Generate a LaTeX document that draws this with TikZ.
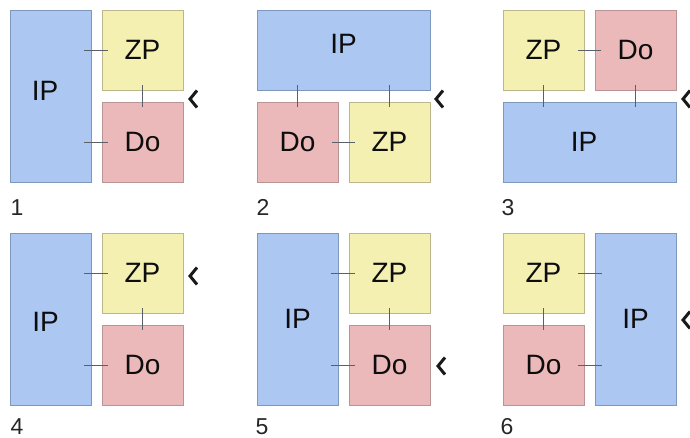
\documentclass[tikz,border=0pt]{standalone}
\usepackage{fontspec}
\setmainfont{Liberation Sans}
\usetikzlibrary{calc}
\definecolor{ipfill}{HTML}{ACC7F2}
\definecolor{ipline}{HTML}{7E97BC}
\definecolor{zpfill}{HTML}{F4F0B2}
\definecolor{zpline}{HTML}{BDB68C}
\definecolor{dofill}{HTML}{EBB9B9}
\definecolor{doline}{HTML}{BA9494}
\definecolor{linkgray}{HTML}{5A6068}
\newcommand{\nudge}[3]{\raisebox{#2}[\height][\depth]{#3}\hspace*{#1}}
\tikzset{
  box/.style={inner sep=0pt, line width=0.8pt, text=black!95,
    font=\fontsize{28}{28}\selectfont},
  small/.style={box, minimum width=81pt, minimum height=80pt},
  tall/.style={box, minimum width=81pt, minimum height=172pt},
  wide/.style={box, minimum width=173pt, minimum height=80pt},
  ip/.style={fill=ipfill, draw=ipline},
  zp/.style={fill=zpfill, draw=zpline},
  do/.style={fill=dofill, draw=doline},
  link/.style={draw=linkgray, line width=0.8pt},
  pointer/.style={draw=black!90, line width=3pt},
  num/.style={anchor=base, inner sep=0pt, text=black!85,
    font=\fontsize{23}{23}\selectfont},
}
\begin{document}
\begin{tikzpicture}[x=1pt,y=-1pt]
\useasboundingbox (0,0) rectangle (690,438);
\clip (0,0) rectangle (690,438);

% 1
\node[tall,ip] (ip1) at (50.5,96) {\nudge{11pt}{5pt}{IP}};
\node[small,zp] (zp1) at (142.5,50) {ZP};
\node[small,do] (do1) at (142.5,142) {Do};
\draw[link] ($(ip1.east |- zp1.west)+(-7,0)$) -- ($(zp1.west)+(6,0)$);
\draw[link] ($(ip1.east |- do1.west)+(-7,0)$) -- ($(do1.west)+(6,0)$);
\draw[link] ($(zp1.south)+(0,-5)$) -- ($(do1.north)+(0,5)$);
\draw[pointer] (197,90.5) -- (190,99) -- (197,107.5);
\node[num] (n1) at (17,216) {1};

% 2
\node[wide,ip] (ip2) at (343.5,50) {\nudge{0pt}{6pt}{IP}};
\node[small,do] (do2) at (297.5,142) {Do};
\node[small,zp] (zp2) at (389.5,142) {ZP};
\draw[link] ($(ip2.south -| do2.north)+(0,-5)$) -- ($(do2.north)+(0,5)$);
\draw[link] ($(ip2.south -| zp2.north)+(0,-5)$) -- ($(zp2.north)+(0,5)$);
\draw[link] ($(do2.east)+(-6,0)$) -- ($(zp2.west)+(6,0)$);
\draw[pointer] (443,90.5) -- (436,99) -- (443,107.5);
\node[num] (n2) at (263,216) {2};

% 3
\node[small,zp] (zp3) at (543.5,50) {ZP};
\node[small,do] (do3) at (635.5,50) {Do};
\node[wide,ip] (ip3) at (589.5,142) {\nudge{11pt}{0pt}{IP}};
\draw[link] ($(zp3.east)+(-6,0)$) -- ($(do3.west)+(6,0)$);
\draw[link] ($(zp3.south)+(0,-5)$) -- ($(ip3.north -| zp3.south)+(0,5)$);
\draw[link] ($(do3.south)+(0,-5)$) -- ($(ip3.north -| do3.south)+(0,5)$);
\draw[pointer] (690,90.5) -- (683,99) -- (690,107.5);
\node[num] (n3) at (508,216) {3};

% 4
\node[tall,ip] (ip4) at (50.5,319) {\nudge{10pt}{-3pt}{IP}};
\node[small,zp] (zp4) at (142.5,273) {ZP};
\node[small,do] (do4) at (142.5,365) {Do};
\draw[link] ($(ip4.east |- zp4.west)+(-7,0)$) -- ($(zp4.west)+(6,0)$);
\draw[link] ($(ip4.east |- do4.west)+(-7,0)$) -- ($(do4.west)+(6,0)$);
\draw[link] ($(zp4.south)+(0,-5)$) -- ($(do4.north)+(0,5)$);
\draw[pointer] (197,267.5) -- (190,276) -- (197,284.5);
\node[num] (n4) at (17,434.5) {4};

% 5
\node[tall,ip] (ip5) at (297.5,319) {IP};
\node[small,zp] (zp5) at (389.5,273) {ZP};
\node[small,do] (do5) at (389.5,365) {Do};
\draw[link] ($(ip5.east |- zp5.west)+(-7,0)$) -- ($(zp5.west)+(6,0)$);
\draw[link] ($(ip5.east |- do5.west)+(-7,0)$) -- ($(do5.west)+(6,0)$);
\draw[link] ($(zp5.south)+(0,-5)$) -- ($(do5.north)+(0,5)$);
\draw[pointer] (445,357.5) -- (438,366) -- (445,374.5);
\node[num] (n5) at (262,434.5) {5};

% 6
\node[small,zp] (zp6) at (543.5,273) {ZP};
\node[small,do] (do6) at (543.5,365) {Do};
\node[tall,ip] (ip6) at (635.5,319) {IP};
\draw[link] ($(zp6.east)+(-6,0)$) -- ($(ip6.west |- zp6.east)+(7,0)$);
\draw[link] ($(do6.east)+(-6,0)$) -- ($(ip6.west |- do6.east)+(7,0)$);
\draw[link] ($(zp6.south)+(0,-5)$) -- ($(do6.north)+(0,5)$);
\draw[pointer] (690,311.5) -- (683,320) -- (690,328.5);
\node[num] (n6) at (507,434.5) {6};
\end{tikzpicture}
\end{document}
